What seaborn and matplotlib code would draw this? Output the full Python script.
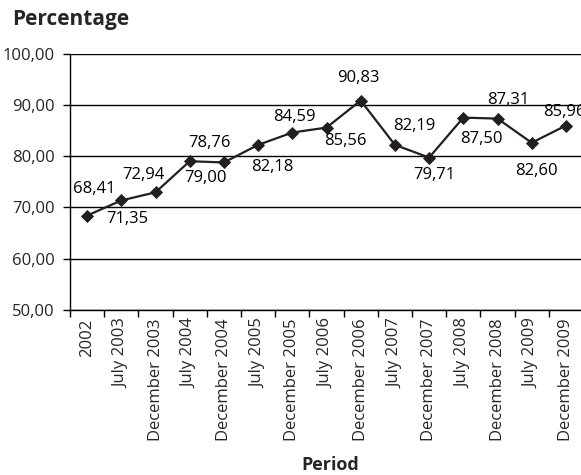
import matplotlib
matplotlib.use("Agg")
import matplotlib.pyplot as plt
import seaborn as sns
import pandas as pd

periods = ["2002", "July 2003", "December 2003", "July 2004", "December 2004",
           "July 2005", "December 2005", "July 2006", "December 2006", "July 2007",
           "December 2007", "July 2008", "December 2008", "July 2009", "December 2009"]
percentages = [68.41, 71.35, 72.94, 79.00, 78.76, 82.18, 84.59, 85.56, 90.83,
               82.19, 79.71, 87.50, 87.31, 82.60, 85.96]
y_ticks = [50, 60, 70, 80, 90, 100]

# label offsets from each point, in pixels (dx right, dy up)
label_offsets = [(7, 27), (6, -19), (-12, 17), (16, -17), (-14, 19), (14, -22),
                 (2, 16), (19, -13), (-2, 23), (19, 19), (5, -17), (18, -21),
                 (11, 19), (5, -28), (-2, 14)]

sns.set_style("white")
plt.rcParams["font.family"] = ["Open Sans", "DejaVu Sans"]

df = pd.DataFrame({"Period": periods, "Percentage": percentages})

fig = plt.figure(figsize=(5.81, 4.75), dpi=100)
ax = fig.add_axes([70 / 581, 1 - 310 / 475, 513 / 581, (310 - 53.5) / 475])

ink = "#231f20"
sns.lineplot(data=df, x="Period", y="Percentage", sort=False, ax=ax,
             color=ink, linewidth=1.6, marker="D", markersize=6.5,
             markeredgewidth=0.6, markeredgecolor=ink, markerfacecolor=ink)

ax.set_xlim(-0.5, len(periods) - 0.5)
ax.set_ylim(50, 100)
ax.set_yticks(y_ticks)
ax.set_yticklabels([f"{v:.2f}".replace(".", ",") for v in y_ticks], fontsize=12)
ax.yaxis.grid(True, color="black", linewidth=1)
ax.set_axisbelow(True)

ax.set_xticks(range(len(periods)))
ax.set_xticklabels(periods, rotation=90, fontsize=12)
ax.set_xticks([i - 0.5 for i in range(len(periods) + 1)], minor=True)
ax.tick_params(axis="x", which="major", length=0, pad=6)
ax.tick_params(axis="x", which="minor", length=5, width=1, color="black", bottom=True)
ax.tick_params(axis="y", length=5, width=1, color="black", left=True, pad=6)

for side in ["top", "right"]:
    ax.spines[side].set_visible(False)
for side in ["left", "bottom"]:
    ax.spines[side].set_color("black")
    ax.spines[side].set_linewidth(1)

for i, (v, (dx, dy)) in enumerate(zip(percentages, label_offsets)):
    ax.annotate(f"{v:.2f}".replace(".", ","), (i, v), xytext=(dx, dy),
                textcoords="offset pixels", ha="center", va="center",
                fontsize=12, color="black")

ax.set_xlabel("")
ax.set_ylabel("")
fig.text(12 / 581, 1 - 19 / 475, "Percentage", fontsize=15, fontweight="bold",
         ha="left", va="center")
fig.text(330 / 581, 1 - 465 / 475, "Period", fontsize=13, fontweight="bold",
         ha="center", va="center")

fig.savefig("out.png", dpi=100)
